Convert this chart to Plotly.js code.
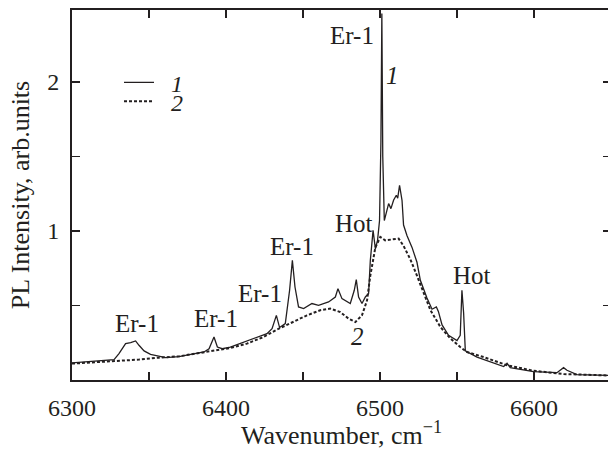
<!DOCTYPE html>
<html>
<head>
<meta charset="utf-8">
<script src="https://cdn.plot.ly/plotly-3.0.1.min.js"></script>
<style>
html,body{margin:0;padding:0;overflow:hidden;background:#fff;}
#chart{width:611px;height:450px;}
</style>
</head>
<body>
<div id="chart"></div>
<script>
// Curve 1 (solid)
const wn1 = [6300,6321.8,6327.3,6330.5,6334.8,6338.1,6341.3,6343.5,6346.8,6351.0,6356.5,6360.8,6369.5,6378.1,6385.7,6389.0,6392.2,6394.4,6397.6,6402.8,6411.4,6420.1,6426.6,6429.9,6432.7,6434.8,6438.5,6441.3,6443.1,6444.8,6447.1,6450.4,6455.8,6460.1,6466.6,6471.0,6472.7,6475.3,6480.7,6483.3,6484.6,6486.1,6488.3,6490.5,6492.6,6493.7,6495.5,6497.0,6498.4,6499.7,6500.6,6501.2,6501.8,6502.8,6504.1,6505.6,6507.1,6508.8,6510.6,6511.5,6512.7,6514.3,6515.3,6517.5,6520.8,6524.0,6526.2,6530.5,6533.8,6536.6,6537.9,6540.3,6544.5,6550.0,6552.1,6553.2,6554.3,6555.4,6563.0,6573.8,6580.3,6582.5,6584.6,6599.7,6614.9,6619.2,6621.4,6627.9,6650];
const pl1 = [0.115,0.13,0.137,0.177,0.244,0.251,0.262,0.233,0.195,0.172,0.159,0.150,0.157,0.172,0.188,0.21,0.289,0.221,0.21,0.221,0.255,0.289,0.311,0.345,0.434,0.352,0.379,0.602,0.803,0.624,0.49,0.479,0.513,0.501,0.524,0.557,0.613,0.546,0.513,0.602,0.674,0.557,0.513,0.557,0.58,0.80,1.005,0.88,0.937,1.07,1.6,2.46,1.5,1.07,1.117,1.184,1.15,1.206,1.24,1.22,1.307,1.206,1.04,0.97,0.89,0.79,0.669,0.55,0.475,0.49,0.46,0.37,0.30,0.265,0.30,0.602,0.45,0.195,0.154,0.113,0.09,0.112,0.083,0.056,0.049,0.083,0.065,0.036,0.031];
// Curve 2 (dashed)
const wn2 = [6300,6321.8,6343.5,6356.5,6369.5,6382.5,6395.5,6402.8,6413.6,6424.4,6433.1,6442.9,6452.6,6461.2,6467.7,6474.2,6479.6,6484.0,6488.3,6491.6,6493.7,6497.0,6500.2,6503.4,6507.8,6512.1,6515.3,6519.7,6524.0,6528.3,6532.7,6539.2,6545.6,6552.1,6556.5,6567.3,6582.5,6599.7,6619.2,6650];
const pl2 = [0.11,0.121,0.137,0.15,0.159,0.181,0.204,0.215,0.244,0.289,0.338,0.389,0.434,0.468,0.479,0.456,0.412,0.389,0.434,0.535,0.70,0.89,0.96,0.937,0.945,0.949,0.9,0.81,0.70,0.59,0.47,0.356,0.28,0.221,0.188,0.154,0.099,0.062,0.04,0.03];
const seriesNames = ['\u00a0\u00a0<i>1</i>','\u00a0\u00a0<i>2</i>'];
const xTickVals = [6300,6350,6400,6450,6500,6550,6600];
const xTickText = ['6300','','6400','','6500','','6600'];
const yTickVals = [0.5,1,1.5,2];
const yTickText = ['','1','','2'];
// Labels: [x, y, text]
const labels = [
  [6342.2,0.378,'Er-1'],
  [6393.7,0.412,'Er-1'],
  [6422.3,0.58,'Er-1'],
  [6442.9,0.893,'Er-1'],
  [6482.9,1.05,'Hot'],
  [6481.8,2.313,'Er-1'],
  [6559.7,0.703,'Hot'],
  [6508.4,2.045,'<i>1</i>'],
  [6485.1,0.289,'<i>2</i>']
];

const FONT = 'Liberation Serif';
const INK = '#231f20';

const traces = [
  {x: wn1, y: pl1, type:'scatter', mode:'lines', name: seriesNames[0],
   line:{color:INK, width:1.3}, legend:'legend'},
  {x: wn2, y: pl2, type:'scatter', mode:'lines', name: seriesNames[1],
   line:{color:INK, width:2, dash:'3px,2px'}, legend:'legend2'}
];

const axisCommon = {
  showline:true, linecolor:INK, linewidth:2, mirror:'ticks',
  ticks:'inside', ticklen:8, tickwidth:1.5, tickcolor:INK,
  showgrid:false, zeroline:false, tickmode:'array',
  tickfont:{family:FONT, size:24, color:INK}
};

const layout = {
  width:611, height:450,
  margin:{l:72, r:0, t:10, b:70},
  paper_bgcolor:'#fff', plot_bgcolor:'#fff',
  font:{family:FONT, color:INK, size:24},
  showlegend:true,
  xaxis: Object.assign({}, axisCommon, {
    range:[6300,6650], tickvals:xTickVals, ticktext:xTickText,
    ticklabelstandoff:5,
    title:{text:'Wavenumber, cm<sup>−1</sup>', font:{family:FONT, size:26, color:INK}, standoff:6}
  }),
  yaxis: Object.assign({}, axisCommon, {
    range:[0,2.483], tickvals:yTickVals, ticktext:yTickText,
    ticklabelstandoff:6,
    title:{text:'PL Intensity, arb.units', font:{family:FONT, size:26, color:INK}, standoff:10}
  }),
  legend:{x:0.0872, xanchor:'left', y:0.8035, yanchor:'middle', bgcolor:'rgba(0,0,0,0)',
          font:{family:FONT, size:24, color:INK}, borderwidth:0},
  legend2:{x:0.0872, xanchor:'left', y:0.752, yanchor:'middle', bgcolor:'rgba(0,0,0,0)',
          font:{family:FONT, size:24, color:INK}, borderwidth:0},
  annotations: labels.map(l => ({x:l[0], y:l[1], xref:'x', yref:'y', text:l[2],
     showarrow:false, xanchor:'center', yanchor:'middle',
     font:{family:FONT, size:25, color:INK}}))
};

Plotly.newPlot('chart', traces, layout, {displayModeBar:false, staticPlot:true});
</script>
</body>
</html>
